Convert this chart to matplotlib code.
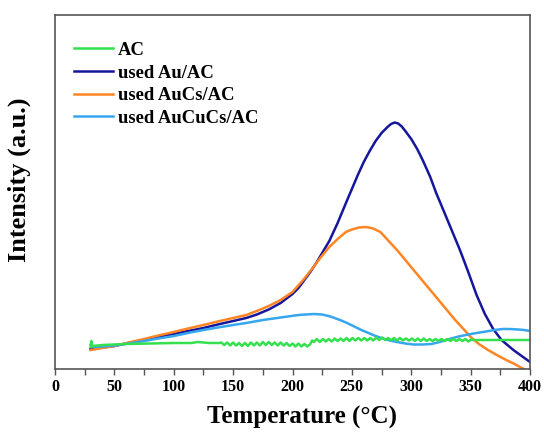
import matplotlib
matplotlib.use("Agg")
import matplotlib.pyplot as plt
from matplotlib.ticker import MultipleLocator, NullLocator

plt.rcParams['font.family'] = ['Liberation Serif', 'DejaVu Serif']

labels = ["AC", "used Au/AC", "used AuCs/AC", "used AuCuCs/AC"]
colors = ["#35e04e", "#16169c", "#ff8424", "#36a6ee"]

ac_T = [30, 30.5, 31.5, 40, 60, 80, 100, 115, 120, 130, 138,
        140, 142.5, 145, 147.5, 150, 152.5, 155, 157.5, 160, 162.5, 165, 167.5, 170, 172.5,
        175, 177.5, 180, 182.5, 185, 187.5, 190, 192.5, 195, 197.5, 200, 202.5, 205, 207.5,
        210, 212.5, 215,
        216.5, 218, 220.5, 223, 225.5, 228, 230.5, 233, 235.5, 238, 240.5, 243, 245.5, 248,
        250.5, 253, 255.5, 258, 260.5, 263, 265.5, 268, 270.5, 273, 275.5, 278, 280.5, 283,
        285.5, 288, 290.5, 293, 295.5, 298, 300.5, 303, 305.5, 308, 310.5, 313, 315.5, 318,
        320.5, 323, 325.5, 328, 330.5, 333, 335.5, 338, 340.5, 343, 345.5, 348, 350.5, 352, 400]
ac_I = [22, 28, 23, 24, 25, 25.5, 26, 26, 27, 26, 26,
        26.5, 24, 26.5, 23.5, 26.5, 23.5, 26, 23, 26, 23, 26.5, 23.5, 26.5, 23.5,
        27, 24, 27, 24, 26.5, 23.5, 26.5, 23.5, 26, 23, 25.5, 22.5, 25.5, 22.5,
        25, 22.5, 25,
        28.5, 27, 30, 27, 30, 27.5, 30, 27.5, 30.5, 28, 30.5, 28, 31, 28,
        31, 28.5, 31, 28.5, 31, 28.5, 31, 28.5, 31.5, 29, 31.5, 29, 31, 28.5,
        31, 28.5, 31, 28.5, 30.5, 28.5, 30.5, 28, 30.5, 28, 30.5, 28, 30, 28,
        30, 28, 30, 28, 30, 28, 30, 28, 30, 28, 30, 27.5, 29.5, 29, 29]

au_T = [30, 40, 50, 62, 75, 87, 100, 112, 125, 137, 150, 161, 170, 180, 190, 200, 205, 210,
        215, 220, 225, 231, 238, 245, 250, 255, 260, 265, 270, 275, 280, 283, 286, 289, 292,
        295, 300, 305, 310, 316, 321, 327, 334, 341, 348, 355, 362, 369, 376, 386, 393, 400]
au_I = [20, 21.5, 23, 26, 29, 32, 35, 38, 41, 44.5, 48, 51, 54.5, 59.5, 66, 75, 81, 89,
        97, 106, 116, 128, 146, 166, 180, 194, 207, 218, 228, 236, 242, 245, 246.5, 245.5, 242.5,
        238, 230, 220, 208, 192, 176, 159, 139, 119, 97, 74, 55, 40, 29, 19, 13, 7]

aucs_T = [30, 40, 50, 62, 75, 87, 100, 112, 125, 137, 150, 161, 170, 180, 190, 200, 209, 217,
          224, 231, 238, 245, 250, 256, 262, 268, 274, 281, 288, 295, 302, 309, 316, 323, 330,
          337, 344, 350, 357, 364, 372, 380, 387, 393, 400]
aucs_I = [19, 21, 23, 26.5, 30, 33.5, 37, 40.5, 44, 47.5, 51, 54, 58, 63, 69, 77, 89, 101,
          112, 122, 130, 137, 139.5, 141.5, 142, 140.5, 137, 128, 119, 109, 99, 89, 79, 69, 59,
          49, 40, 32, 25, 19.5, 14, 9, 5, 1, -3]

aucucs_T = [30, 32, 40, 50, 62, 75, 87, 100, 112, 125, 137, 150, 161, 175, 190, 205, 218, 225,
            232, 240, 246, 252, 258, 264, 270, 276, 282, 288, 295, 302, 310, 317, 324, 332, 340,
            348, 355, 363, 370, 377, 383, 390, 395, 400]
aucucs_I = [24, 22, 22.5, 23.5, 25.5, 28, 30.5, 33, 36, 39, 41.5, 44, 46, 49, 51.5, 54, 55, 54.5,
            52.5, 49, 46, 42.5, 39, 36, 33, 30.5, 28.5, 27, 25.5, 24.5, 24.5, 25, 27, 30, 32.5,
            34.5, 36, 37.5, 39, 40, 40, 39.5, 39, 38]

xticks = [0, 50, 100, 150, 200, 250, 300, 350, 400]

fig = plt.figure(figsize=(5.44, 4.32), dpi=100)
ax = fig.add_axes([55 / 544, 1 - 369 / 432, 475 / 544, 354 / 432])

series = [(ac_T, ac_I), (au_T, au_I), (aucs_T, aucs_I), (aucucs_T, aucucs_I)]
order = [1, 2, 3, 0]
lines = {}
for i in order:
    T, I = series[i]
    ln, = ax.plot(T, I, color=colors[i], lw=1.8, label=labels[i], solid_joinstyle='round')
    lines[i] = ln

ax.set_xlim(0, 400)
ax.set_ylim(0, 354)
ax.set_xticks(xticks)
ax.xaxis.set_minor_locator(MultipleLocator(25))
ax.yaxis.set_major_locator(NullLocator())
ax.tick_params(axis='x', which='both', direction='out', length=4, width=1.0, color='#555555',
               labelsize=11.5, pad=3)
for lab in ax.get_xticklabels():
    lab.set_fontweight('bold')
for sp in ax.spines.values():
    sp.set_color('#555555')
    sp.set_linewidth(1.2)

ax.set_xlabel("Temperature (°C)", fontsize=18, fontweight='bold')
ax.xaxis.set_label_coords(0.52, -0.105)
ax.set_ylabel("Intensity (a.u.)", fontsize=19, fontweight='bold')
ax.yaxis.set_label_coords(-0.05, 0.535)

ax.legend([lines[i] for i in range(4)], labels, loc='upper left',
          bbox_to_anchor=(0.024, 0.945), frameon=False,
          prop={'weight': 'bold', 'size': 13.4}, handlelength=2.1, handletextpad=0.25,
          labelspacing=0.3, borderaxespad=0)

fig.savefig("out.png", dpi=100)
